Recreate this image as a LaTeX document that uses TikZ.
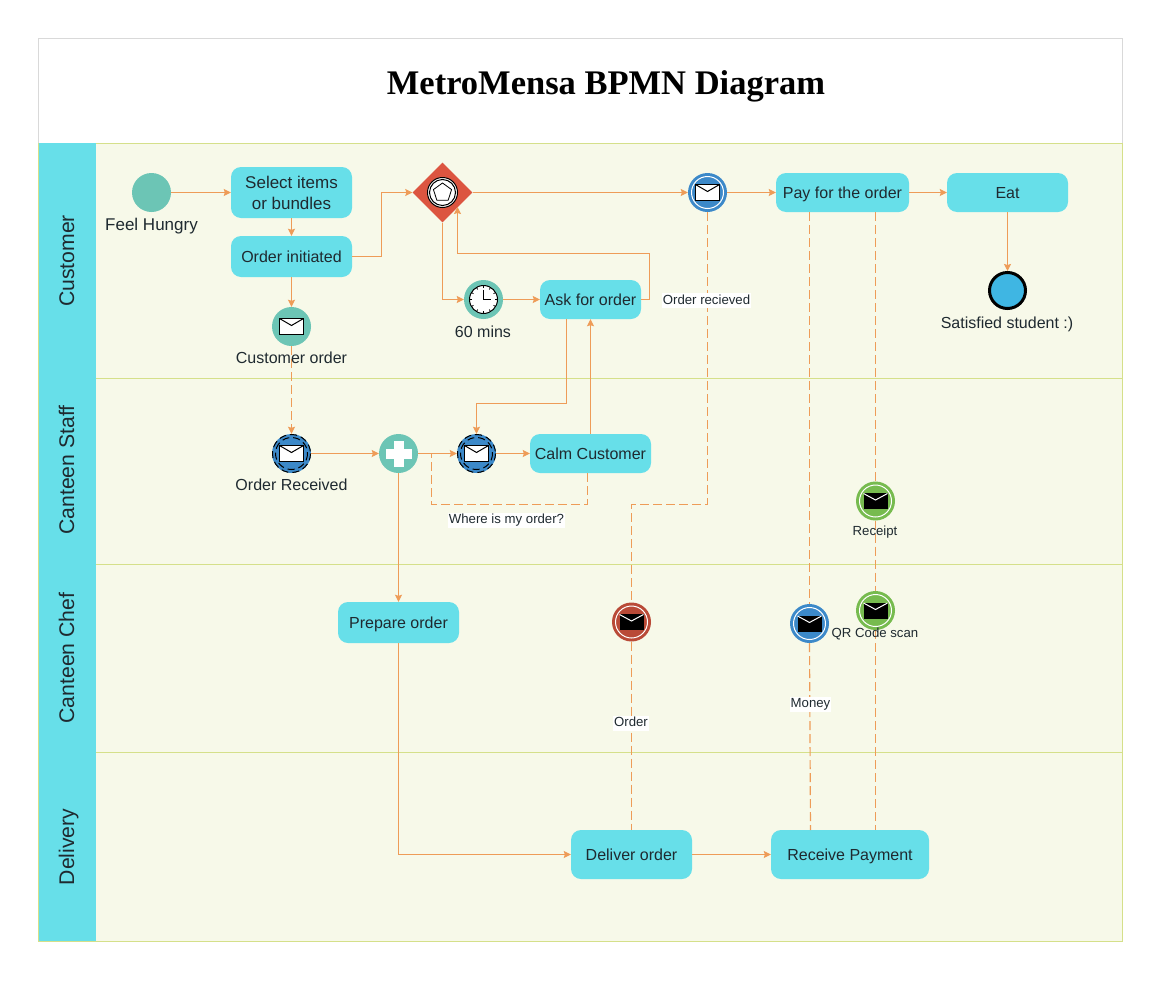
\documentclass[tikz,border=0pt]{standalone}
\usepackage{fontspec}
\setmainfont{Liberation Sans}
\newfontfamily\titlefont{Liberation Serif}
\usetikzlibrary{arrows.meta,shapes.geometric}
\definecolor{lanebg}{HTML}{F7F9E9}
\definecolor{laneline}{HTML}{D5E08A}
\definecolor{taskcol}{HTML}{67DFE9}
\definecolor{flowcol}{HTML}{EE9C58}
\definecolor{tealcol}{HTML}{6CC5B5}
\definecolor{bluecol}{HTML}{3C89C9}
\definecolor{greencol}{HTML}{77BB4F}
\definecolor{redcol}{HTML}{B94A37}
\definecolor{gatecol}{HTML}{DC5540}
\definecolor{endcol}{HTML}{3FB6E3}
\definecolor{txtcol}{HTML}{1F2A30}
\tikzset{
  lane/.style={draw=laneline,fill=lanebg,line width=1pt},
  lanehead/.style={fill=taskcol},
  lanetext/.style={rotate=90,font=\fontsize{21.2}{25}\selectfont,text=txtcol,inner sep=0pt,text height=15pt,text depth=4pt},
  task/.style={fill=taskcol,rounded corners=10pt,inner sep=0pt,align=center,text=txtcol,
    font=\fontsize{16}{21}\selectfont},
  onetask/.style={task,text height=14pt,text depth=3pt},
  evt/.style={circle,inner sep=0pt,minimum size=39pt},
  lab/.style={font=\fontsize{16}{19}\selectfont,text=txtcol,inner sep=0pt,text height=12pt,text depth=4pt},
  flowlab/.style={font=\fontsize{13.2}{15}\selectfont,text=txtcol,inner sep=1pt,text height=10pt,text depth=3pt},
  whitelab/.style={flowlab,fill=white},
  flow/.style={draw=flowcol,line width=1pt,-{Stealth[length=7pt,width=7pt,inset=1pt]}},
  msgflow/.style={draw=flowcol,line width=1.15pt,dash pattern=on 9pt off 4pt},
  msgflowarrow/.style={msgflow,-{Stealth[length=7pt,width=7pt,inset=1pt]}},
}
\newcommand{\envelopeicon}[4]{%
  \fill[#3] (#1-12,#2-8) rectangle (#1+12,#2+8);
  \draw[#4,line width=1pt] (#1-12,#2-8) rectangle (#1+12,#2+8);
  \draw[#4,line width=1pt] (#1-12,#2-8) -- (#1,#2-1) -- (#1+12,#2-8);
}
\newcommand{\darkenvelope}[2]{%
  \fill[black] (#1-12,#2-8) rectangle (#1+12,#2+8);
  \draw[white,line width=1pt] (#1-12,#2-7.5) -- (#1,#2-1) -- (#1+12,#2-7.5);
}
\begin{document}
\begin{tikzpicture}[x=1pt,y=-1pt]
\useasboundingbox (0,0) rectangle (1159,980);
\fill[white] (0,0) rectangle (1159,980);
% frame and lanes
\draw[draw=black!15,line width=1pt] (38.5,38.5) rectangle (1122.5,143.5);
\draw[lane] (38.5,143.5) rectangle (1122.5,378.5);
\draw[lane] (38.5,378.5) rectangle (1122.5,564.5);
\draw[lane] (38.5,564.5) rectangle (1122.5,752.5);
\draw[lane] (38.5,752.5) rectangle (1122.5,941.5);
\fill[lanehead] (39,143) rectangle (96,941);
\node[font=\titlefont\bfseries\fontsize{34.5}{40}\selectfont,text=black,inner sep=0pt] (title) at (606,86) {MetroMensa BPMN Diagram};
\node[lanetext] (lcustomer) at (68.5,261) {Customer};
\node[lanetext] (lstaff) at (68.5,470) {Canteen Staff};
\node[lanetext] (lchef) at (68.5,658) {Canteen Chef};
\node[lanetext] (ldelivery) at (68.5,847) {Delivery};
% tasks
\node[task,font=\fontsize{17}{21}\selectfont,minimum width=121pt,minimum height=51pt] (select) at (291.5,192.5) {Select items\\or bundles};
\node[onetask,minimum width=121pt,minimum height=41pt] (initiated) at (291.5,256.5) {Order initiated};
\node[onetask,minimum width=101pt,minimum height=39pt] (ask) at (590.5,299.5) {Ask for order};
\node[onetask,minimum width=133pt,minimum height=39pt] (pay) at (842.5,192.5) {Pay for the order};
\node[onetask,minimum width=121pt,minimum height=39pt] (eat) at (1007.5,192.5) {Eat};
\node[onetask,minimum width=121pt,minimum height=39pt] (calm) at (590.5,453.5) {Calm Customer};
\node[onetask,minimum width=121pt,minimum height=41pt] (prepare) at (398.5,622.5) {Prepare order};
\node[onetask,minimum width=121pt,minimum height=49pt] (deliver) at (631.5,854.5) {Deliver order};
\node[onetask,minimum width=158pt,minimum height=49pt] (receive) at (850,854.5) {Receive Payment};
% events
\node[evt,fill=tealcol] (start) at (151.5,192.5) {};
\node[evt,fill=tealcol] (corder) at (291.5,326.5) {};
\node[evt,fill=tealcol] (timer) at (483.5,299.5) {};
\node[evt,fill=tealcol] (plus) at (398.5,453.5) {};
\node[evt,fill=bluecol] (oreceived) at (291.5,453.5) {};
\node[evt,fill=bluecol] (mwait) at (476.5,453.5) {};
\node[evt,fill=bluecol] (mpay) at (707.5,192.5) {};
\node[evt,fill=redcol] (mred) at (631.5,622) {};
\node[evt,fill=bluecol] (mblue) at (809.5,623.5) {};
\node[evt,fill=greencol] (mreceipt) at (875.5,501) {};
\node[evt,fill=greencol] (mqr) at (875.5,610.5) {};
\node[circle,draw=black,line width=3pt,fill=endcol,inner sep=0pt,minimum size=36pt] (endevt) at (1007.5,290.5) {};
\node[diamond,aspect=1,fill=gatecol,inner sep=0pt,minimum width=60pt,minimum height=60pt] (gate) at (442.5,192.5) {};
% event decorations
\foreach \cx/\cy in {291.5/453.5,476.5/453.5}{
  \draw[black,line width=1pt,dash pattern=on 7pt off 4pt] (\cx,\cy) circle[radius=19];
  \draw[black,line width=1pt,dash pattern=on 7pt off 4pt] (\cx,\cy) circle[radius=16];
}
\foreach \cx/\cy in {707.5/192.5,631.5/622,809.5/623.5,875.5/501,875.5/610.5}{
  \draw[white,line width=1pt] (\cx,\cy) circle[radius=16];
}
\envelopeicon{291.5}{326.5}{white}{black}
\envelopeicon{291.5}{453.5}{white}{black}
\envelopeicon{476.5}{453.5}{white}{black}
\envelopeicon{707.5}{192.5}{white}{black}
\darkenvelope{631.5}{622}
\darkenvelope{809.5}{623.5}
\darkenvelope{875.5}{501}
\darkenvelope{875.5}{610.5}
\fill[white] (398.5-5,453.5-13) rectangle (398.5+5,453.5+13);
\fill[white] (398.5-13,453.5-5) rectangle (398.5+13,453.5+5);
\draw[black,fill=white,line width=1pt] (442.5,192.5) circle[radius=15];
\draw[black,line width=1pt] (442.5,192.5) circle[radius=13];
\draw[black,line width=0.8pt,line join=round] (442.5,183) -- (451.6,189.6) -- (448.1,200.3) -- (436.9,200.3) -- (433.4,189.6) -- cycle;
\begin{scope}[shift={(483.5,299.5)}]
  \draw[black,fill=white,line width=1pt] (0,0) circle[radius=14];
  \foreach \a in {0,30,...,330}{\draw[black,line width=0.7pt] (\a:11.5) -- (\a:14);}
  \draw[black,line width=1pt] (0,-10) -- (0,0) -- (7,0);
\end{scope}
% connectors
\coordinate (w1) at (381.5,192.5);
\coordinate (w2) at (649.5,253.5);
\coordinate (w3) at (457.5,253.5);
\coordinate (w4) at (566.5,403.5);
\coordinate (w5) at (476.5,403.5);
\coordinate (w6) at (707.5,504.5);
\coordinate (w7) at (631.5,504.5);
\coordinate (w8) at (587.5,504.5);
\coordinate (w9) at (431.5,504.5);
\coordinate (w10) at (431.5,453.5);
\coordinate (w11) at (442.5,299.5);
\coordinate (w12) at (649.5,299.5);
\coordinate (w13) at (398.5,854.5);
\coordinate (w14) at (457.5,207);
\coordinate (w15) at (810.5,830);
\draw[flow] (start.east) -- (select.west);
\draw[flow] (select.south) -- (initiated.north);
\draw[flow] (initiated.east) -| (w1) -- (gate.west);
\draw[flow] (initiated.south) -- (corder.north);
\draw[flow] (gate.east) -- (mpay.west);
\draw[flow] (mpay.east) -- (pay.west);
\draw[flow] (pay.east) -- (eat.west);
\draw[flow] (eat.south) -- (endevt.north);
\draw[flow] (gate.south) -- (w11) -- (timer.west);
\draw[flow] (timer.east) -- (ask.west);
\draw[flow] (ask.east) -- (w12) -- (w2) -- (w3) -- (w14);
\draw[flow] (ask.south -| w4) -- (w4) -- (w5) -- (mwait.north);
\draw[flow] (calm.north) -- (ask.south);
\draw[flow] (oreceived.east) -- (plus.west);
\draw[flow] (plus.east) -- (mwait.west);
\draw[flow] (mwait.east) -- (calm.west);
\draw[flow] (plus.south) -- (prepare.north);
\draw[flow] (prepare.south) -- (w13) -- (deliver.west);
\draw[flow] (deliver.east) -- (receive.west);
\draw[msgflowarrow] (corder.south) -- (oreceived.north);
\draw[msgflow] (calm.south -| w8) -- (w8) -- (w9) -- (w10);
\draw[msgflow] (mpay.south) -- (w6) -- (w7) -- (mred.north);
\draw[msgflow] (mred.south) -- (deliver.north);
\draw[msgflow] (mblue.north |- pay.south) -- (mblue.north);
\draw[msgflow] (mblue.south) -- (w15);
\draw[msgflow] (mreceipt.north |- pay.south) -- (mreceipt.north);
\draw[msgflow] (mreceipt.south) -- (mqr.north);
\draw[msgflow] (mqr.south) -- (mqr.south |- receive.north);
% labels
\node[lab,font=\fontsize{17}{19}\selectfont] (lhungry) at (151.5,226) {Feel Hungry};
\node[lab] (lcorder) at (291.5,359.5) {Customer order};
\node[lab] (l60) at (483,333) {60 mins};
\node[lab] (lreceived) at (291.5,486.7) {Order Received};
\node[lab] (lsatisfied) at (1007,324) {Satisfied student :)};
\node[whitelab] (lorecv) at (706.5,300.5) {Order recieved};
\node[whitelab] (lwhere) at (506.5,520) {Where is my order?};
\node[whitelab] (lorder) at (631,723) {Order};
\node[whitelab] (lmoney) at (810.5,704) {Money};
\node[flowlab] (lreceipt) at (875,532) {Receipt};
\node[flowlab] (lqr) at (875,634) {QR Code scan};
\end{tikzpicture}
\end{document}
